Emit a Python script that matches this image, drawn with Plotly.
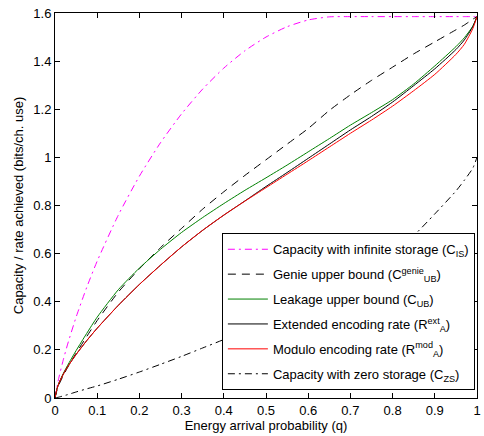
import plotly.graph_objects as go

# Energy arrival probability grid shared by all curves
q = [0, 0.005, 0.01, 0.02, 0.03, 0.05, 0.075, 0.1, 0.15, 0.2, 0.25, 0.3, 0.35,
     0.4, 0.45, 0.5, 0.55, 0.6, 0.65, 0.7, 0.75, 0.8, 0.85, 0.9, 0.95, 0.97,
     0.99, 1.0]

# Capacity with infinite storage
c_is = [0, 0.050, 0.091, 0.161, 0.224, 0.336, 0.459, 0.569, 0.760, 0.922,
        1.061, 1.181, 1.284, 1.371, 1.443, 1.500, 1.543, 1.571, 1.584, 1.585,
        1.585, 1.585, 1.585, 1.585, 1.585, 1.585, 1.585, 1.585]

# Genie upper bound
c_genie = [0, 0.035, 0.058, 0.095, 0.127, 0.186, 0.255, 0.322, 0.440, 0.537,
           0.625, 0.705, 0.785, 0.857, 0.925, 0.990, 1.055, 1.120, 1.195,
           1.260, 1.320, 1.375, 1.430, 1.480, 1.530, 1.550, 1.574, 1.585]

# Leakage upper bound
c_ub = [0, 0.040, 0.065, 0.103, 0.136, 0.197, 0.268, 0.336, 0.450, 0.540,
        0.618, 0.688, 0.750, 0.808, 0.863, 0.915, 0.968, 1.023, 1.078, 1.134,
        1.186, 1.240, 1.305, 1.380, 1.460, 1.497, 1.545, 1.585]

# Extended encoding rate
r_ext = [0, 0.040, 0.064, 0.100, 0.130, 0.181, 0.238, 0.290, 0.385, 0.472,
         0.552, 0.628, 0.697, 0.760, 0.819, 0.879, 0.937, 0.996, 1.055, 1.114,
         1.170, 1.230, 1.298, 1.368, 1.448, 1.488, 1.543, 1.585]

# Modulo encoding rate
r_mod = [0, 0.040, 0.064, 0.100, 0.130, 0.181, 0.238, 0.290, 0.385, 0.472,
         0.552, 0.628, 0.697, 0.760, 0.818, 0.874, 0.930, 0.986, 1.043, 1.100,
         1.155, 1.213, 1.277, 1.345, 1.428, 1.470, 1.535, 1.585]

# Capacity with zero storage
c_zs = [0, 0.002, 0.004, 0.009, 0.014, 0.025, 0.038, 0.050, 0.078, 0.108,
        0.140, 0.173, 0.208, 0.243, 0.280, 0.318, 0.358, 0.402, 0.448, 0.497,
        0.550, 0.607, 0.675, 0.765, 0.860, 0.905, 0.955, 1.0]

x_ticks = [0, 0.1, 0.2, 0.3, 0.4, 0.5, 0.6, 0.7, 0.8, 0.9, 1]
y_ticks = [0, 0.2, 0.4, 0.6, 0.8, 1, 1.2, 1.4, 1.6]

series = [
    ("Capacity with infinite storage (C<sub>IS</sub>)", c_is, "#ff00ff", "7px,4px,2px,4px"),
    ("Genie upper bound (C<sup>genie</sup><sub>UB</sub>)", c_genie, "#000000", "8px,6px"),
    ("Leakage upper bound (C<sub>UB</sub>)", c_ub, "#008000", "solid"),
    ("Extended encoding rate (R<sup>ext</sup><sub>A</sub>)", r_ext, "#000000", "solid"),
    ("Modulo encoding rate (R<sup>mod</sup><sub>A</sub>)", r_mod, "#ff0000", "solid"),
    ("Capacity with zero storage (C<sub>ZS</sub>)", c_zs, "#000000", "7px,4px,2px,4px"),
]

FONT = "Liberation Sans, Arial, Helvetica, sans-serif"
FS = 13

fig = go.Figure()
for i, (name, vals, color, dash) in enumerate(series):
    fig.add_trace(go.Scatter(
        x=q, y=vals, mode="lines", name=name, legendgroup=f"g{i}",
        line=dict(color=color, width=1, dash=dash, shape="spline", smoothing=0.6),
    ))

axis_common = dict(
    showline=True, linecolor="black", linewidth=1, mirror="ticks",
    ticks="inside", ticklen=5, tickcolor="black", tickwidth=1,
    showgrid=False, zeroline=False, ticklabeloverflow="allow",
    tickfont=dict(family=FONT, size=FS, color="black"),
)

fig.update_xaxes(range=[0, 1], tickvals=x_ticks,
                 ticktext=[f"{v:g}" for v in x_ticks],
                 title=dict(text="Energy arrival probability (q)",
                            font=dict(family=FONT, size=FS, color="black"),
                            standoff=2),
                 **axis_common)
fig.update_yaxes(range=[0, 1.6], tickvals=y_ticks,
                 ticktext=[f"{v:g}" for v in y_ticks],
                 title=dict(text="Capacity / rate achieved (bits/ch. use)",
                            font=dict(family=FONT, size=FS, color="black"),
                            standoff=6),
                 **axis_common)

fig.update_layout(
    width=484, height=436,
    margin=dict(l=55, r=3, t=13, b=38),
    paper_bgcolor="white", plot_bgcolor="white",
    font=dict(family=FONT, size=FS, color="black"),
    legend=dict(
        x=0.995, y=0.02, xanchor="right", yanchor="bottom",
        bgcolor="white", bordercolor="black", borderwidth=1,
        font=dict(family=FONT, size=FS, color="black"),
        tracegroupgap=5, itemwidth=40,
    ),
)

fig.write_html("out.html")
